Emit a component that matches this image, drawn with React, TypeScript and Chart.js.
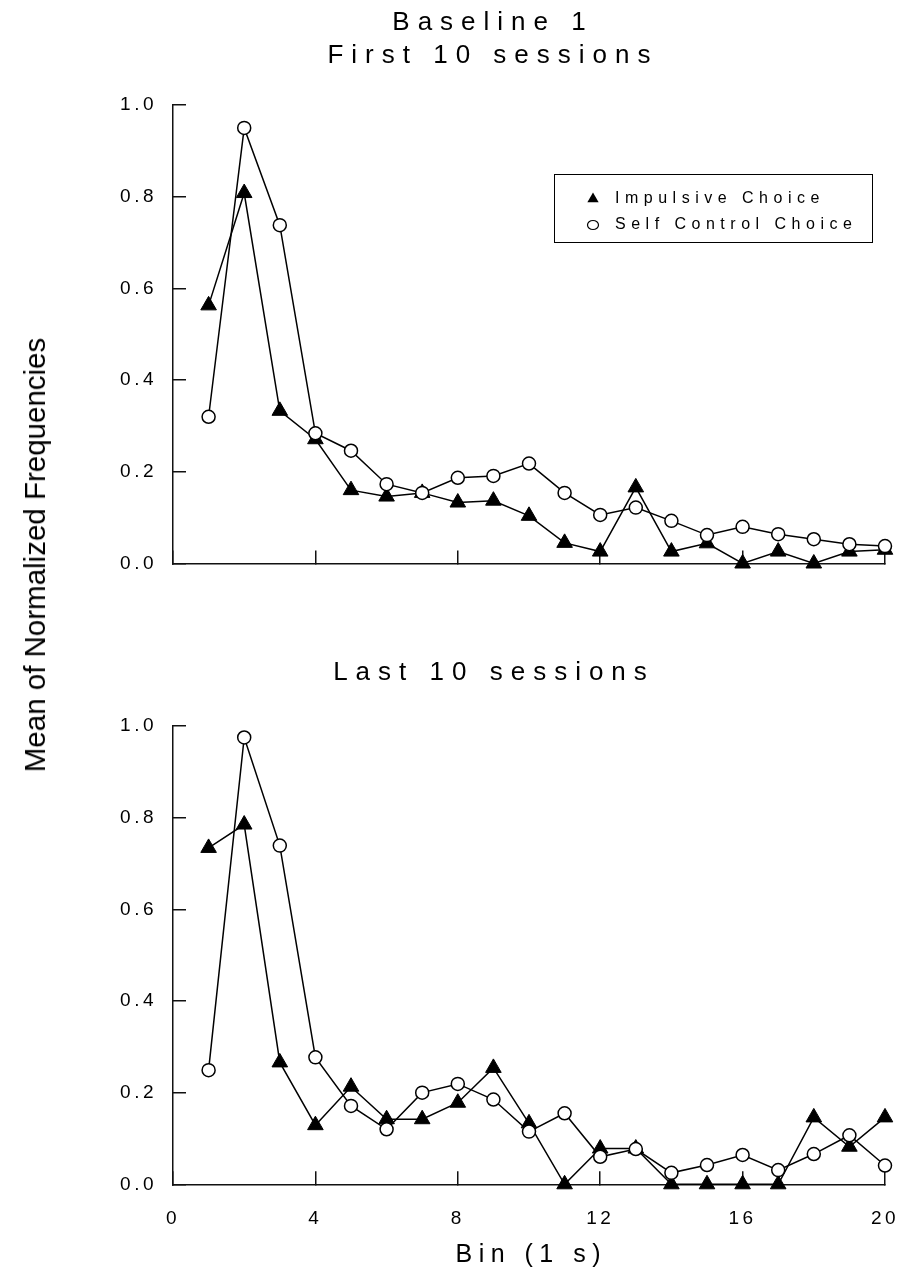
import React, { useEffect, useRef } from "react";
import { Chart, registerables } from "chart.js";

Chart.register(...registerables);

// ---------- data ----------
const bins = [1, 2, 3, 4, 5, 6, 7, 8, 9, 10, 11, 12, 13, 14, 15, 16, 17, 18, 19, 20];

const impulsiveFirst = [0.563, 0.808, 0.333, 0.271, 0.16, 0.146, 0.154, 0.133, 0.137, 0.104, 0.045, 0.026, 0.166, 0.026, 0.044, 0.0, 0.026, 0.0, 0.026, 0.03];
const selfControlFirst = [0.32, 0.95, 0.738, 0.284, 0.246, 0.173, 0.154, 0.187, 0.191, 0.218, 0.154, 0.106, 0.122, 0.093, 0.062, 0.08, 0.064, 0.053, 0.042, 0.038];

const impulsiveLast = [0.734, 0.785, 0.266, 0.129, 0.213, 0.142, 0.142, 0.178, 0.254, 0.133, 0.0, 0.078, 0.078, 0.0, 0.0, 0.0, 0.0, 0.146, 0.082, 0.146];
const selfControlLast = [0.249, 0.975, 0.739, 0.277, 0.171, 0.12, 0.2, 0.219, 0.185, 0.115, 0.155, 0.06, 0.077, 0.025, 0.042, 0.064, 0.031, 0.066, 0.107, 0.041];

const xTicks = [0, 4, 8, 12, 16, 20];
const yTicks = [0, 0.2, 0.4, 0.6, 0.8, 1.0];

const seriesLabels = ["Impulsive Choice", "Self Control Choice"];
const topTitle = ["Baseline 1", "First 10 sessions"];
const bottomTitle = "Last 10 sessions";
const xAxisTitle = "Bin (1 s)";
const yAxisTitle = "Mean of Normalized Frequencies";

// ---------- styling ----------
const FONT = '"Liberation Sans", Arial, Helvetica, sans-serif';
const W = 898;
const PLOT_LEFT = 173;
const PLOT_RIGHT = 885;

const tickSpacingPlugin = {
  id: "tickSpacing",
  beforeDraw(chart: any) {
    chart.ctx.letterSpacing = "3.5px";
  },
};

const legendPlugin = {
  id: "boxLegend",
  afterDraw(chart: any) {
    const opts = chart.options.plugins.boxLegend;
    if (!opts || !opts.show) return;
    const ctx = chart.ctx;
    const a = chart.chartArea;
    const bx = a.left + 381;
    const by = a.top + 69;
    const bw = 318;
    const bh = 68;
    ctx.save();
    ctx.letterSpacing = "0px";
    ctx.strokeStyle = "#000";
    ctx.lineWidth = 1;
    ctx.strokeRect(bx + 0.5, by + 0.5, bw, bh);
    const mx = bx + 39;
    const y1 = by + 25;
    const y2 = by + 51;
    // triangle
    const r = 6.5;
    ctx.fillStyle = "#000";
    ctx.beginPath();
    ctx.moveTo(mx, y1 - r);
    ctx.lineTo(mx + r * 0.866, y1 + r / 2);
    ctx.lineTo(mx - r * 0.866, y1 + r / 2);
    ctx.closePath();
    ctx.fill();
    // circle
    ctx.beginPath();
    ctx.ellipse(mx, y2, 5.5, 4.5, 0, 0, Math.PI * 2);
    ctx.fillStyle = "#fff";
    ctx.fill();
    ctx.lineWidth = 1.2;
    ctx.stroke();
    ctx.fillStyle = "#000";
    ctx.font = `16px ${FONT}`;
    ctx.letterSpacing = "5.5px";
    ctx.textBaseline = "middle";
    ctx.textAlign = "left";
    ctx.fillText(opts.labels[0], mx + 22, y1);
    ctx.fillText(opts.labels[1], mx + 22, y2);
    ctx.restore();
  },
};

type PanelProps = {
  top: number;
  height: number;
  plotTop: number;
  plotBottom: number;
  impulsive: number[];
  selfControl: number[];
  showXLabels: boolean;
  showLegend: boolean;
};

function Panel(p: PanelProps) {
  const ref = useRef<HTMLCanvasElement>(null);
  useEffect(() => {
    const axisHeight = p.top + p.height - p.plotBottom;
    const gridOpts = {
      drawOnChartArea: false,
      drawTicks: true,
      tickLength: -13,
      color: "#111",
      lineWidth: 1.5,
    };
    const borderOpts = { display: true, color: "#111", width: 1.5 };
    const chart = new Chart(ref.current as HTMLCanvasElement, {
      type: "line",
      data: {
        datasets: [
          {
            label: seriesLabels[0],
            data: bins.map((b, i) => ({ x: b, y: p.impulsive[i] })),
            borderColor: "#000",
            borderWidth: 1.5,
            pointStyle: "triangle",
            pointRadius: 9,
            pointBackgroundColor: "#000",
            pointBorderColor: "#000",
            pointBorderWidth: 1,
            fill: false,
            tension: 0,
            clip: false,
            order: 2,
          } as any,
          {
            label: seriesLabels[1],
            data: bins.map((b, i) => ({ x: b, y: p.selfControl[i] })),
            borderColor: "#000",
            borderWidth: 1.5,
            pointStyle: "circle",
            pointRadius: 6.5,
            pointBackgroundColor: "#fff",
            pointBorderColor: "#000",
            pointBorderWidth: 1.5,
            fill: false,
            tension: 0,
            clip: false,
            order: 1,
          } as any,
        ],
      },
      options: {
        responsive: false,
        animation: false,
        devicePixelRatio: 1,
        events: [],
        layout: {
          padding: { top: p.plotTop - p.top, right: W - PLOT_RIGHT, left: 0, bottom: 0 },
        },
        plugins: {
          legend: { display: false },
          tooltip: { enabled: false },
          title: { display: false },
          boxLegend: { show: p.showLegend, labels: seriesLabels },
        } as any,
        scales: {
          x: {
            type: "linear",
            min: 0,
            max: 20,
            afterBuildTicks: (s: any) => {
              s.ticks = xTicks.map((v) => ({ value: v }));
            },
            afterFit: (s: any) => {
              s.height = axisHeight;
              s.paddingLeft = 0;
              s.paddingRight = 0;
              s.paddingTop = 0;
              s.paddingBottom = 0;
            },
            grid: gridOpts,
            border: borderOpts,
            ticks: {
              display: p.showXLabels,
              padding: 36,
              color: "#000",
              font: { family: FONT, size: 19 },
              maxRotation: 0,
              autoSkip: false,
              callback: (v: any) => String(v),
            },
          },
          y: {
            type: "linear",
            min: 0,
            max: 1,
            afterBuildTicks: (s: any) => {
              s.ticks = yTicks.map((v) => ({ value: v }));
            },
            afterFit: (s: any) => {
              s.width = PLOT_LEFT;
              s.paddingLeft = 0;
              s.paddingRight = 0;
              s.paddingTop = 0;
              s.paddingBottom = 0;
            },
            grid: gridOpts,
            border: borderOpts,
            ticks: {
              padding: 29,
              color: "#000",
              font: { family: FONT, size: 19 },
              callback: (v: any) => Number(v).toFixed(1),
            },
          },
        } as any,
      },
      plugins: [tickSpacingPlugin, legendPlugin],
    });
    return () => chart.destroy();
  }, []);
  return (
    <canvas
      ref={ref}
      width={W}
      height={p.height}
      style={{ position: "absolute", left: 0, top: p.top, width: W, height: p.height }}
    />
  );
}

const titleStyle: React.CSSProperties = {
  position: "absolute",
  transform: "translateX(-50%)",
  whiteSpace: "nowrap",
  fontFamily: FONT,
  fontSize: 26,
  lineHeight: "30px",
  letterSpacing: "8px",
  paddingLeft: "8px",
  color: "#000",
  textAlign: "center",
};

export default function App() {
  return (
    <div
      style={{
        position: "absolute",
        left: 0,
        top: 0,
        width: W,
        height: 1272,
        background: "#fff",
        overflow: "hidden",
      }}
    >
      <Panel
        top={0}
        height={610}
        plotTop={105}
        plotBottom={563.5}
        impulsive={impulsiveFirst}
        selfControl={selfControlFirst}
        showXLabels={false}
        showLegend={true}
      />
      <Panel
        top={620}
        height={652}
        plotTop={726}
        plotBottom={1184.3}
        impulsive={impulsiveLast}
        selfControl={selfControlLast}
        showXLabels={true}
        showLegend={false}
      />
      <div style={{ ...titleStyle, left: 489, top: 6 }}>
        <div>{topTitle[0]}</div>
        <div style={{ marginTop: 3 }}>{topTitle[1]}</div>
      </div>
      <div style={{ ...titleStyle, left: 490, top: 656 }}>{bottomTitle}</div>
      <div
        style={{
          ...titleStyle,
          left: 528,
          top: 1238,
          fontSize: 25,
          letterSpacing: "6.5px",
          paddingLeft: "6.5px",
        }}
      >
        {xAxisTitle}
      </div>
      <div
        style={{
          position: "absolute",
          left: 35,
          top: 555,
          transform: "translate(-50%, -50%) rotate(-90deg)",
          whiteSpace: "nowrap",
          fontFamily: FONT,
          fontSize: 29.5,
          lineHeight: "32px",
          color: "#000",
        }}
      >
        {yAxisTitle}
      </div>
    </div>
  );
}
